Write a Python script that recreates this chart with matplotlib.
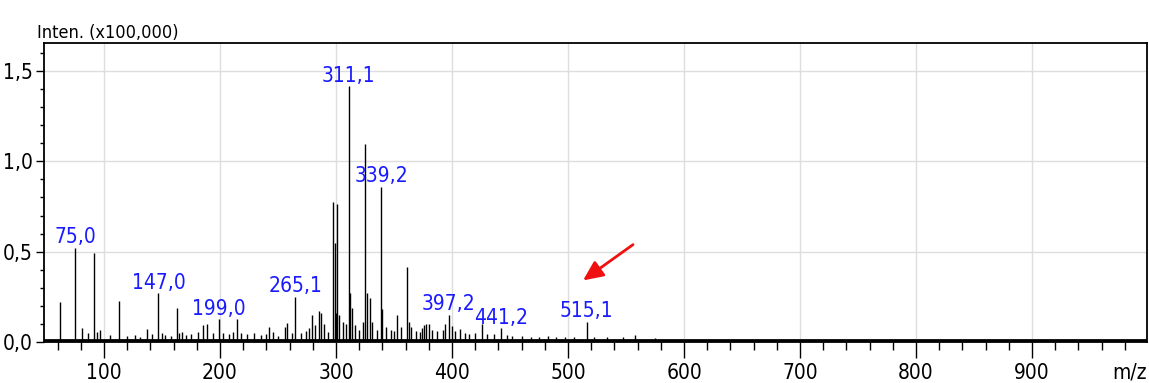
import matplotlib
matplotlib.use('Agg')
import matplotlib.pyplot as plt
from matplotlib.ticker import MultipleLocator, FuncFormatter

# пики спектра: m/z и интенсивность (x100,000)
mz = [62, 75, 81, 86, 91, 94, 97, 105, 113, 120, 127, 131, 137, 141, 147, 150,
      153, 158, 163, 165, 167, 171, 175, 181, 185, 189, 194, 199, 203, 208, 211,
      215, 218, 223, 229, 235, 240, 242, 246, 250, 256, 258, 262, 265, 270, 274,
      277, 279, 282, 285, 287, 290, 293, 297, 299, 300, 301, 303, 306, 309, 311,
      312, 314, 316, 320, 323, 325, 327, 329, 331, 335, 339, 340, 343, 347, 350,
      353, 356, 361, 363, 365, 369, 372, 374, 376, 378, 380, 383, 387, 392, 394,
      397, 400, 403, 407, 411, 415, 420, 426, 430, 436, 442, 447, 452, 460, 468,
      475, 483, 490, 497, 505, 516, 522, 534, 547, 558, 575]
inten = [0.22, 0.52, 0.08, 0.05, 0.49, 0.055, 0.065, 0.04, 0.225, 0.035, 0.04,
         0.03, 0.07, 0.045, 0.27, 0.05, 0.04, 0.035, 0.19, 0.05, 0.055, 0.04,
         0.045, 0.055, 0.095, 0.1, 0.05, 0.125, 0.05, 0.045, 0.055, 0.125, 0.05,
         0.045, 0.05, 0.04, 0.045, 0.085, 0.055, 0.035, 0.085, 0.105, 0.05, 0.25,
         0.05, 0.06, 0.075, 0.15, 0.095, 0.17, 0.16, 0.1, 0.055, 0.775, 0.55,
         0.16, 0.765, 0.15, 0.11, 0.1, 1.415, 0.27, 0.19, 0.095, 0.065, 0.11,
         1.095, 0.27, 0.245, 0.11, 0.065, 0.86, 0.18, 0.085, 0.065, 0.06, 0.15,
         0.085, 0.415, 0.11, 0.085, 0.06, 0.055, 0.075, 0.095, 0.1, 0.1, 0.065,
         0.06, 0.065, 0.1, 0.15, 0.09, 0.06, 0.07, 0.05, 0.045, 0.05, 0.1, 0.045,
         0.045, 0.075, 0.04, 0.035, 0.035, 0.03, 0.03, 0.035, 0.03, 0.03, 0.03,
         0.11, 0.025, 0.025, 0.025, 0.04, 0.02]

# подписанные пики
label_mz = [75, 147, 199, 265, 311, 339, 397, 442, 516]
label_txt = ['75,0', '147,0', '199,0', '265,1', '311,1', '339,2', '397,2', '441,2', '515,1']

# уровень шума (базовая линия)
base_mz = [48, 1000]
base_level = [0.012, 0.012]

# стрелка
arrow_from = (558, 0.548)
arrow_to = (511, 0.332)

plt.rcParams['font.family'] = ['DejaVu Sans']
plt.rcParams['font.stretch'] = 'condensed'

fig = plt.figure(figsize=(11.49, 3.83), dpi=100)
ax = fig.add_axes([44 / 1149, 1 - 342 / 383, 1103 / 1149, 299 / 383])

ax.vlines(mz, 0, inten, color='black', linewidth=1.0)
ax.plot(base_mz, base_level, color='black', linewidth=2)

peak = dict(zip(mz, inten))
for m, t in zip(label_mz, label_txt):
    ax.annotate(t, xy=(m, peak[m]), xytext=(0, 0.5), textcoords='offset points',
                ha='center', va='bottom', color='#1a1aff', fontsize=15)

ax.annotate('', xy=arrow_to, xytext=arrow_from,
            arrowprops=dict(arrowstyle='-|>,head_length=1.2,head_width=0.55',
                            color='#f01010', lw=2))

ax.set_xlim(48.3, 999.1)
ax.set_ylim(0, 1.655)

ax.xaxis.set_major_locator(MultipleLocator(100))
ax.xaxis.set_minor_locator(MultipleLocator(20))
ax.yaxis.set_major_locator(MultipleLocator(0.5))
ax.yaxis.set_minor_locator(MultipleLocator(0.1))
ax.yaxis.set_major_formatter(FuncFormatter(lambda v, p: f'{v:.1f}'.replace('.', ',')))

ax.tick_params(axis='x', which='major', length=11.5, width=1, pad=3.5, labelsize=15)
ax.tick_params(axis='x', which='minor', length=6, width=1)
ax.tick_params(axis='y', which='major', length=6, width=1, pad=2, labelsize=15)
ax.tick_params(axis='y', which='minor', length=3, width=1)

ax.grid(True, which='major', color='#dddddd', linewidth=1)
ax.set_axisbelow(True)
for s in ax.spines.values():
    s.set_linewidth(1.3)

fig.text(37 / 1149, 1 - 38 / 383, 'Inten. (x100,000)', fontsize=13, va='baseline')
fig.text(1147 / 1149, 1 - 362 / 383, 'm/z', fontsize=15, ha='right', va='top')

fig.savefig('out.png', dpi=100)
